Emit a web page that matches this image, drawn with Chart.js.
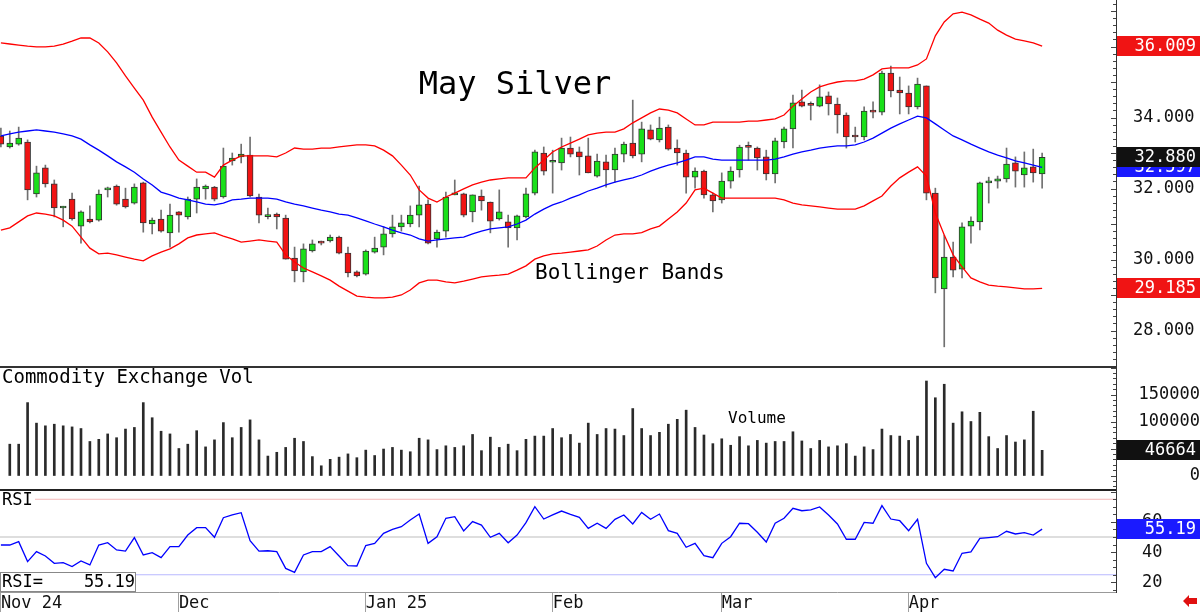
<!DOCTYPE html>
<html>
<head>
<meta charset="utf-8">
<title>May Silver</title>
<script src="https://cdn.jsdelivr.net/npm/chart.js@4.4.1/dist/chart.umd.min.js"></script>
<style>
  html, body { margin: 0; padding: 0; background: #fff; }
  #wrap { position: relative; width: 1200px; height: 612px; overflow: hidden; background: #fff; }
  #wrap canvas { position: absolute; left: 0; }
  #pricePane { top: 0; }
  #volPane { top: 366px; }
  #rsiPane { top: 489px; }
</style>
</head>
<body>
<div id="wrap">
  <canvas id="pricePane" width="1200" height="366"></canvas>
  <canvas id="volPane" width="1200" height="123"></canvas>
  <canvas id="rsiPane" width="1200" height="123"></canvas>
</div>
<script>
// daily candles, index 0 = first session of Nov 24
const opens = [33.48,33.17,33.25,33.31,31.85,32.58,32.13,31.45,31.70,30.94,
  31.14,31.11,31.96,32.07,31.70,31.59,32.16,31.00,31.14,30.75,
  31.34,31.20,31.70,31.99,32.04,31.76,32.78,32.89,32.94,31.76,
  31.21,31.28,31.17,30.04,29.65,30.24,30.48,30.52,30.63,30.18,
  29.65,29.59,30.21,30.35,30.72,30.92,31.00,31.25,31.56,30.58,
  30.80,31.82,31.85,31.34,31.79,31.62,31.14,31.06,30.89,31.20,
  31.87,33.00,32.74,32.72,33.14,33.03,32.92,32.35,32.75,32.52,
  32.97,33.28,32.97,33.65,33.37,33.73,33.14,33.00,32.32,32.49,
  31.82,31.68,32.21,32.52,33.18,33.14,32.89,32.41,33.31,33.68,
  34.44,34.36,34.32,34.61,34.38,34.07,33.47,33.45,34.21,34.15,
  35.25,34.77,34.69,34.30,34.89,31.87,29.17,30.07,29.73,30.94,
  31.06,32.16,32.21,32.27,32.72,32.38,32.61,32.41];
const highs = [33.70,33.62,33.73,33.37,32.63,32.66,32.24,31.50,31.87,31.37,
  31.51,31.96,32.04,32.10,32.01,32.13,32.18,31.17,31.39,31.56,
  31.35,31.76,32.27,32.10,32.06,33.14,33.00,33.25,33.45,31.84,
  31.45,31.31,31.25,30.35,30.44,30.55,30.52,30.69,30.66,30.35,
  29.68,30.27,30.63,30.92,31.25,31.25,31.51,32.07,31.68,30.83,
  31.90,32.24,31.87,31.82,31.96,31.62,31.96,31.25,31.25,32.01,
  33.08,33.17,33.08,33.42,33.45,33.17,33.42,32.97,32.94,33.14,
  33.31,34.49,33.87,33.79,34.01,33.79,33.37,33.08,32.58,32.52,
  31.87,32.44,32.61,33.22,33.31,33.17,33.08,33.42,33.73,34.63,
  34.77,34.44,34.92,34.72,34.55,34.13,33.73,34.30,34.44,35.31,
  35.45,35.14,34.89,35.11,34.89,32.01,30.69,30.49,31.03,31.20,
  32.18,32.32,32.35,33.14,32.89,33.03,33.11,33.00];
const lows = [33.17,33.14,33.22,31.68,31.76,32.04,31.20,30.92,31.11,30.46,
  31.03,31.08,31.76,31.53,31.45,31.56,30.77,30.72,30.77,30.35,
  30.77,31.14,31.31,31.70,31.65,31.73,32.66,32.72,31.76,31.03,
  31.14,30.86,30.01,29.37,29.37,30.21,30.41,30.49,30.16,29.51,
  29.51,29.56,30.18,30.13,30.63,30.80,30.92,30.92,30.44,30.35,
  30.63,31.82,31.20,31.06,31.39,30.75,31.11,30.35,30.55,31.17,
  31.82,32.38,31.87,32.52,32.89,32.38,32.44,32.32,32.04,32.18,
  32.75,32.86,32.75,33.37,33.31,33.08,32.66,31.87,32.01,31.73,
  31.34,31.59,32.01,32.32,32.80,32.52,32.24,32.16,33.14,33.14,
  34.30,33.93,34.30,34.07,33.56,33.14,33.31,33.37,33.99,34.07,
  34.58,34.10,34.10,34.24,31.68,29.06,27.54,29.51,29.48,30.46,
  30.83,31.59,32.01,32.18,32.04,32.04,32.18,32.01];
const closes = [33.25,33.28,33.42,31.96,32.44,32.13,31.45,31.48,31.14,31.34,
  31.06,31.84,31.99,31.56,31.48,32.04,31.03,31.11,30.80,31.25,
  31.25,31.70,32.04,32.07,31.70,32.63,32.86,32.97,31.79,31.25,
  31.23,31.20,30.01,29.68,30.30,30.44,30.46,30.63,30.18,29.62,
  29.54,30.24,30.32,30.72,30.92,31.03,31.25,31.54,30.46,30.77,
  31.76,31.85,31.25,31.82,31.65,31.08,31.34,30.89,31.23,31.85,
  33.03,32.49,32.77,33.14,32.97,32.89,32.44,32.77,32.52,32.97,
  33.25,32.92,33.68,33.39,33.70,33.11,33.00,32.32,32.49,31.82,
  31.65,32.21,32.49,33.17,33.16,32.86,32.41,33.34,33.68,34.41,
  34.32,34.34,34.58,34.38,34.07,33.45,33.45,34.18,34.15,35.25,
  34.75,34.69,34.30,34.94,31.87,29.48,30.07,29.70,30.92,31.08,
  32.16,32.21,32.27,32.69,32.49,32.58,32.44,32.880];

const bbUpper = [36.10,36.07,36.04,36.01,35.99,35.99,36.01,36.07,36.15,36.24,
  36.24,36.10,35.85,35.54,35.17,34.83,34.49,34.01,33.59,33.17,
  32.80,32.63,32.46,32.46,32.32,32.66,32.80,32.92,32.92,32.92,
  32.92,32.89,33.00,33.14,33.11,33.11,33.14,33.14,33.17,33.20,
  33.23,33.23,33.20,33.08,32.92,32.66,32.38,31.96,31.73,31.62,
  31.76,31.87,31.99,32.10,32.18,32.24,32.27,32.30,32.30,32.30,
  32.58,32.80,33.03,33.17,33.28,33.39,33.51,33.56,33.59,33.59,
  33.68,33.85,33.99,34.13,34.24,34.21,34.13,33.96,33.79,33.79,
  33.87,33.87,33.87,33.87,33.90,33.90,33.93,33.96,34.07,34.32,
  34.52,34.72,34.86,34.94,35.00,35.03,35.03,35.08,35.20,35.37,
  35.40,35.40,35.40,35.48,35.65,36.30,36.69,36.92,36.97,36.89,
  36.77,36.66,36.46,36.32,36.21,36.16,36.10,36.009];
const bbMiddle = [33.48,33.54,33.59,33.62,33.65,33.62,33.59,33.54,33.48,33.39,
  33.23,33.08,32.92,32.75,32.61,32.46,32.27,32.10,31.90,31.82,
  31.73,31.68,31.62,31.56,31.54,31.59,31.68,31.70,31.73,31.73,
  31.73,31.70,31.62,31.56,31.51,31.45,31.39,31.34,31.28,31.25,
  31.17,31.09,31.00,30.92,30.83,30.75,30.69,30.58,30.52,30.55,
  30.58,30.61,30.63,30.72,30.80,30.86,30.89,30.92,31.00,31.11,
  31.28,31.42,31.54,31.62,31.73,31.82,31.93,32.01,32.10,32.18,
  32.24,32.30,32.38,32.49,32.58,32.66,32.72,32.80,32.89,32.89,
  32.83,32.80,32.80,32.80,32.80,32.80,32.80,32.83,32.89,32.97,
  33.03,33.08,33.14,33.17,33.20,33.20,33.23,33.31,33.42,33.56,
  33.70,33.82,33.93,34.04,33.99,33.82,33.65,33.48,33.37,33.25,
  33.14,33.03,32.94,32.86,32.78,32.72,32.66,32.597];
const bbLower = [30.83,30.89,31.06,31.23,31.31,31.28,31.23,31.11,30.94,30.63,
  30.32,30.16,30.18,30.13,30.07,30.01,29.96,30.10,30.21,30.30,
  30.44,30.61,30.69,30.72,30.75,30.66,30.58,30.49,30.52,30.55,
  30.52,30.49,30.13,29.93,29.76,29.65,29.54,29.42,29.25,29.11,
  28.97,28.94,28.92,28.92,28.94,29.00,29.14,29.34,29.42,29.42,
  29.37,29.34,29.39,29.45,29.51,29.54,29.56,29.59,29.70,29.82,
  30.01,30.10,30.16,30.18,30.21,30.24,30.27,30.38,30.55,30.69,
  30.72,30.72,30.76,30.86,30.94,31.14,31.34,31.59,31.96,32.01,
  31.87,31.73,31.73,31.73,31.73,31.73,31.73,31.73,31.68,31.59,
  31.54,31.51,31.48,31.45,31.42,31.42,31.42,31.51,31.65,31.79,
  32.07,32.30,32.46,32.61,32.35,31.31,30.69,30.13,29.79,29.48,
  29.37,29.28,29.25,29.23,29.20,29.17,29.17,29.185];

const volumes = [null,58000,58000,135000,97000,92000,95000,92000,90000,87000,
  63000,67000,77000,70000,86000,89000,135000,107000,82000,77000,
  50000,58000,83000,53000,66000,98000,70000,89000,103000,66000,
  36000,43000,52000,69000,63000,35000,18000,30000,34000,40000,
  33000,47000,37000,49000,52000,47000,44000,69000,66000,48000,
  55000,52000,55000,76000,46000,71000,52000,58000,46000,67000,
  73000,73000,87000,70000,76000,60000,97000,76000,87000,86000,
  74000,124000,87000,74000,80000,95000,104000,121000,89000,75000,
  59000,68000,56000,72000,55000,65000,60000,63000,63000,81000,
  64000,50000,65000,53000,55000,59000,36000,53000,48000,86000,
  74000,73000,65000,73000,175000,144000,169000,97000,118000,100000,
  117000,72000,50000,74000,62000,66000,119000,46664];

const rsi = [44.7,44.7,46.9,33.7,40.3,37.4,32.6,33.0,30.4,34.1,
  31.5,44.7,46.2,41.4,40.7,49.6,38.1,39.6,36.3,43.6,
  43.6,51.3,56.2,56.2,49.8,62.8,64.6,66.1,47.6,40.7,
  40.9,40.3,29.2,26.6,38.1,40.3,40.3,43.6,37.4,31.0,
  30.8,44.3,45.8,52.4,55.1,56.8,61.3,65.2,45.8,50.2,
  62.4,63.5,54.0,60.2,57.9,49.8,52.4,46.2,51.3,59.5,
  70.1,61.9,64.6,67.2,65.0,63.0,55.7,59.1,55.7,61.7,
  64.6,58.6,66.3,61.7,65.2,54.2,52.4,43.2,45.8,37.6,
  36.3,45.8,50.2,59.1,58.8,53.1,46.7,59.1,62.4,69.0,
  67.4,67.9,69.9,64.6,58.6,48.5,48.5,59.7,59.1,70.8,
  61.9,60.8,54.2,61.7,32.6,23.1,28.6,27.5,39.2,40.1,
  49.1,49.6,50.2,53.8,52.0,52.9,51.3,55.19];
const rsiLevels = [75, 50, 25];

const monthLabels = ['Nov 24', 'Dec', 'Jan 25', 'Feb', 'Mar', 'Apr'];
const monthStarts = [0, 20, 41, 62, 81, 102];
const priceTicks = [28, 30, 32, 34, 36];
const volumeTicks = [0, 100000, 150000];
const rsiTicks = [20, 40, 60];

const FONT = "'DejaVu Sans Mono', monospace";
const xMin = -0.1, xMax = 125.3;
const UP = '#19e019', DOWN = '#f01414';

Chart.defaults.font.family = FONT;
Chart.defaults.font.size = 17;
Chart.defaults.color = '#111';

const pts = arr => arr.map((v, i) => ({ x: i, y: v }));

// colored value tag in the right margin
function valueTag(ctx, y, text, bg) {
  ctx.save();
  ctx.fillStyle = bg;
  ctx.fillRect(1117, Math.round(y) - 10, 83, 20);
  ctx.fillStyle = '#fff';
  ctx.font = '17px ' + FONT;
  ctx.textAlign = 'right';
  ctx.textBaseline = 'middle';
  ctx.fillText(text, 1196, Math.round(y) + 1);
  ctx.restore();
}

// small tick marks along the right axis line
function axisTicks(chart, step, bigStep) {
  const { ctx, chartArea, scales: { y } } = chart;
  ctx.save();
  ctx.strokeStyle = '#444';
  ctx.lineWidth = 1;
  for (let k = Math.ceil(y.min / step); k * step <= y.max; k++) {
    const v = k * step;
    const py = Math.round(y.getPixelForValue(v)) + 0.5;
    const r = v / bigStep;
    const big = Math.abs(r - Math.round(r)) < 1e-6;
    ctx.beginPath();
    ctx.moveTo(chartArea.right - (big ? 5 : 3), py);
    ctx.lineTo(chartArea.right, py);
    ctx.stroke();
  }
  ctx.restore();
}

// keep the label padding from shrinking the plot area
function noPad(s) {
  s.paddingTop = 0; s.paddingBottom = 0; s.paddingLeft = 0; s.paddingRight = 0;
}

function rightAxis(min, max, ticks, padding, crossAlign, fmt) {
  return {
    type: 'linear', position: 'right', min: min, max: max,
    afterBuildTicks: s => { s.ticks = ticks.map(v => ({ value: v })); },
    afterFit: s => { s.width = 84; noPad(s); },
    grid: { display: false, drawTicks: false },
    border: { display: true, color: '#333' },
    ticks: { padding: padding, crossAlign: crossAlign, color: '#111', callback: fmt }
  };
}

const hiddenX = { type: 'linear', min: xMin, max: xMax, display: false, offset: false };
const baseOptions = {
  responsive: false, animation: false, events: [],
  layout: { padding: 0 },
  plugins: { legend: { display: false }, tooltip: { enabled: false } }
};

// ---- price pane ----
const pricePlugin = {
  id: 'priceNotes',
  afterDraw(chart) {
    const { ctx, scales: { y } } = chart;
    axisTicks(chart, 0.2, 1);
    ctx.save();
    ctx.fillStyle = '#000';
    ctx.textBaseline = 'middle';
    ctx.font = '32px ' + FONT;
    ctx.textAlign = 'center';
    ctx.fillText('May Silver', 515, 86);
    ctx.font = '21px ' + FONT;
    ctx.textAlign = 'left';
    ctx.fillText('Bollinger Bands', 535, 274);
    ctx.restore();
    const last = arr => arr[arr.length - 1];
    valueTag(ctx, y.getPixelForValue(last(bbUpper)), last(bbUpper).toFixed(3), DOWN);
    valueTag(ctx, y.getPixelForValue(last(bbLower)), last(bbLower).toFixed(3), DOWN);
    valueTag(ctx, y.getPixelForValue(last(bbMiddle)), last(bbMiddle).toFixed(3), '#1a1aff');
    valueTag(ctx, y.getPixelForValue(last(closes)), last(closes).toFixed(3), '#111');
  }
};

new Chart(document.getElementById('pricePane'), {
  type: 'bar',
  data: {
    datasets: [
      { type: 'line', data: pts(bbUpper), borderColor: '#ff0000', borderWidth: 1.3, pointRadius: 0, order: 0 },
      { type: 'line', data: pts(bbMiddle), borderColor: '#0000ff', borderWidth: 1.3, pointRadius: 0, order: 0 },
      { type: 'line', data: pts(bbLower), borderColor: '#ff0000', borderWidth: 1.3, pointRadius: 0, order: 0 },
      {
        data: opens.map((o, i) => ({ x: i, y: [o, closes[i]] })),
        backgroundColor: c => closes[c.dataIndex] >= opens[c.dataIndex] ? UP : DOWN,
        borderColor: '#333', borderWidth: 1, borderSkipped: false,
        barThickness: 6, minBarLength: 2, grouped: false, order: 1
      },
      {
        data: lows.map((l, i) => ({ x: i, y: [l, highs[i]] })),
        backgroundColor: '#707070', barThickness: 1, grouped: false, order: 2
      }
    ]
  },
  options: Object.assign({}, baseOptions, {
    scales: {
      x: hiddenX,
      y: rightAxis(27.0, 37.31, priceTicks, 17, 'near', v => v.toFixed(3))
    }
  }),
  plugins: [pricePlugin]
});

// ---- volume pane ----
const volPlugin = {
  id: 'volNotes',
  afterDraw(chart) {
    const { ctx, scales: { y } } = chart;
    axisTicks(chart, 10000, 50000);
    ctx.save();
    ctx.fillStyle = '#333';
    ctx.fillRect(0, 0, 1116, 2);
    ctx.fillStyle = '#000';
    ctx.textBaseline = 'middle';
    ctx.textAlign = 'left';
    ctx.font = '19px ' + FONT;
    ctx.fillText('Commodity Exchange Vol', 2, 12);
    ctx.font = '16px ' + FONT;
    ctx.fillText('Volume', 728, 53);
    ctx.restore();
    const v = volumes[volumes.length - 1];
    valueTag(ctx, y.getPixelForValue(v), String(v), '#111');
  }
};

new Chart(document.getElementById('volPane'), {
  type: 'bar',
  data: {
    datasets: [{ data: pts(volumes), backgroundColor: '#2a2a2a', barThickness: 2 }]
  },
  options: Object.assign({}, baseOptions, {
    scales: {
      x: hiddenX,
      y: rightAxis(-25000, 202800, volumeTicks, 17, 'far', v => String(v))
    }
  }),
  plugins: [volPlugin]
});

// ---- RSI pane ----
const rsiPlugin = {
  id: 'rsiNotes',
  afterDraw(chart) {
    const { ctx, scales: { y } } = chart;
    axisTicks(chart, 5, 20);
    const last = rsi[rsi.length - 1];
    ctx.save();
    ctx.fillStyle = '#222';
    ctx.fillRect(0, 0, 1116, 2);
    ctx.fillStyle = '#fff';
    ctx.fillRect(0, 3, 35, 18);
    ctx.fillStyle = '#000';
    ctx.textBaseline = 'middle';
    ctx.textAlign = 'left';
    ctx.font = '17px ' + FONT;
    ctx.fillText('RSI', 2, 12);
    ctx.fillStyle = '#fff';
    ctx.fillRect(0, 83, 135, 19);
    ctx.strokeStyle = '#888';
    ctx.lineWidth = 1;
    ctx.strokeRect(0.5, 83.5, 135, 19);
    ctx.fillStyle = '#000';
    ctx.fillText('RSI=    ' + last.toFixed(2), 2, 94);
    // little red arrow, bottom right
    ctx.fillStyle = '#e01010';
    ctx.beginPath();
    ctx.moveTo(1183, 112);
    ctx.lineTo(1189, 106);
    ctx.lineTo(1189, 109);
    ctx.lineTo(1197, 109);
    ctx.lineTo(1197, 115);
    ctx.lineTo(1189, 115);
    ctx.lineTo(1189, 118);
    ctx.closePath();
    ctx.fill();
    ctx.restore();
    valueTag(ctx, y.getPixelForValue(last), last.toFixed(2), '#1a1aff');
  }
};

const levelColors = ['#f5b8b8', '#bdbdbd', '#b8b8ff'];
new Chart(document.getElementById('rsiPane'), {
  type: 'line',
  data: {
    datasets: rsiLevels.map((lv, k) => ({
      data: [{ x: xMin, y: lv }, { x: xMax, y: lv }],
      borderColor: levelColors[k], borderWidth: 1, pointRadius: 0, order: 1
    })).concat([
      { data: pts(rsi), borderColor: '#0000ff', borderWidth: 1.3, pointRadius: 0, order: 0 }
    ])
  },
  options: Object.assign({}, baseOptions, {
    scales: {
      x: {
        type: 'linear', position: 'bottom', min: xMin, max: xMax, offset: false,
        afterBuildTicks: s => { s.ticks = monthStarts.map(v => ({ value: v })); },
        afterFit: s => { s.height = 20; noPad(s); },
        grid: { display: true, drawOnChartArea: false, drawTicks: true, tickLength: 20, color: '#a0a0a0' },
        border: { display: true, color: '#999' },
        ticks: {
          autoSkip: false, maxRotation: 0, align: 'start', padding: -19, color: '#111',
          callback: (v, i) => monthLabels[i]
        }
      },
      y: rightAxis(13.58, 81.79, rsiTicks, 26, 'near', v => String(v))
    }
  }),
  plugins: [rsiPlugin]
});
</script>
</body>
</html>
